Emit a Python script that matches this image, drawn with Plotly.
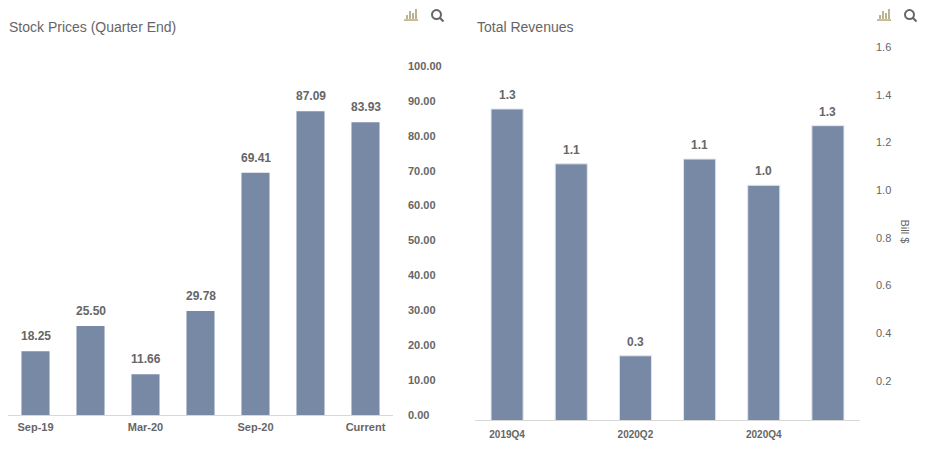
import plotly.graph_objects as go

# Datos del panel izquierdo: precio de la acción al cierre de trimestre
trimestres = ['Sep-19', 'Dec-19', 'Mar-20', 'Jun-20', 'Sep-20', 'Dec-20', 'Current']
precios = [18.25, 25.50, 11.66, 29.78, 69.41, 87.09, 83.93]
etiquetas_precio = ['Sep-19', 'Mar-20', 'Sep-20', 'Current']

# Datos del panel derecho: ingresos totales (miles de millones $)
periodos = ['2019Q4', '2020Q1', '2020Q2', '2020Q3', '2020Q4', '2021Q1']
ingresos = [1.34, 1.11, 0.305, 1.13, 1.02, 1.27]
etiquetas_periodo = ['2019Q4', '2020Q2', '2020Q4']

ticks_precio = [0, 10, 20, 30, 40, 50, 60, 70, 80, 90, 100]
ticks_ingreso = [0.2, 0.4, 0.6, 0.8, 1.0, 1.2, 1.4, 1.6]

# Coordenadas de referencia en px de la imagen 925x451
W, H = 925, 451
ALTO = 458  # la captura se reescala en vertical, compensamos con un alto mayor
color_barra = '#7789a5'
gris = '#666666'
fuente = 'Liberation Sans, Arial, sans-serif'


def px_x(p):
    return p / W


def px_y(p):
    return 1 - p / H


fig = go.Figure()

fig.add_trace(go.Bar(
    x=trimestres, y=precios, xaxis='x', yaxis='y',
    marker=dict(color=color_barra, line=dict(width=0)),
    width=0.51, hoverinfo='skip'
))

fig.add_trace(go.Bar(
    x=periodos, y=ingresos, xaxis='x2', yaxis='y2',
    marker=dict(color=color_barra, line=dict(width=1, color='#dfe5ee')),
    width=0.5, hoverinfo='skip'
))

# Etiquetas de datos encima de cada barra
for cat, v in zip(trimestres, precios):
    fig.add_annotation(x=cat, y=v, xref='x', yref='y', text=f'{v:.2f}',
                       showarrow=False, yanchor='bottom', yshift=6,
                       font=dict(size=12, color=gris, weight='bold'))
for cat, v in zip(periodos, ingresos):
    fig.add_annotation(x=cat, y=v, xref='x2', yref='y2', text=f'{v:.1f}',
                       showarrow=False, yanchor='bottom', yshift=5,
                       font=dict(size=12, color=gris, weight='bold'))

# Formato de los ejes
eje_x = dict(showgrid=False, showline=True, linecolor='#d8d8d8', linewidth=1,
             ticks='', zeroline=False, fixedrange=True)
eje_y = dict(showgrid=False, zeroline=False, showline=False, side='right',
             ticks='', fixedrange=True)

fig.update_layout(
    width=W, height=ALTO,
    margin=dict(l=0, r=0, t=0, b=0),
    paper_bgcolor='white', plot_bgcolor='white',
    showlegend=False, bargap=0.5,
    font=dict(family=fuente, color=gris),
    xaxis=dict(eje_x, domain=[px_x(8), px_x(393)], anchor='y',
               tickvals=etiquetas_precio, ticktext=etiquetas_precio,
               tickfont=dict(size=11, color=gris, weight='bold'),
               ticklabelstandoff=2),
    yaxis=dict(eje_y, domain=[px_y(414), px_y(59)], anchor='x', range=[0, 102],
               tickvals=ticks_precio, ticktext=[f'{t:.2f}' for t in ticks_precio],
               tickfont=dict(size=11, color=gris, weight='bold'),
               ticklabelstandoff=14),
    xaxis2=dict(eje_x, domain=[px_x(475), px_x(860)], anchor='y2',
                tickvals=etiquetas_periodo, ticktext=etiquetas_periodo,
                tickfont=dict(size=10, color=gris, weight='bold'),
                ticklabelstandoff=5),
    yaxis2=dict(eje_y, domain=[px_y(419), px_y(35)], anchor='x2', range=[0.036, 1.65],
                tickvals=ticks_ingreso, ticktext=[f'{t:.1f}' for t in ticks_ingreso],
                tickfont=dict(size=11, color=gris),
                ticklabelstandoff=15),
)

# Títulos de cada panel y título del eje derecho
fig.add_annotation(text='Stock Prices (Quarter End)', x=px_x(7), y=px_y(27),
                   xref='paper', yref='paper', xanchor='left', yanchor='middle',
                   showarrow=False, font=dict(size=14, color=gris))
fig.add_annotation(text='Total Revenues', x=px_x(475), y=px_y(27),
                   xref='paper', yref='paper', xanchor='left', yanchor='middle',
                   showarrow=False, font=dict(size=14, color=gris))
fig.add_annotation(text='Bill $', x=px_x(905), y=px_y(231), textangle=90,
                   xref='paper', yref='paper', xanchor='center', yanchor='middle',
                   showarrow=False, font=dict(size=11, color=gris))


# Iconos decorativos (gráfico de barras y lupa) en la esquina de cada panel
def iconos(x0):
    oro = '#a99a6a'
    formas = [dict(type='line', x0=x0, x1=x0 + 14, y0=20, y1=20,
                   line=dict(color=oro, width=1.3))]
    for i, h in enumerate([4, 8, 6, 10]):
        xx = x0 + 3 + i * 3
        formas.append(dict(type='line', x0=xx, x1=xx, y0=19, y1=19 - h,
                           line=dict(color=oro, width=1.5)))
    formas.append(dict(type='circle', x0=x0 + 28, x1=x0 + 37, y0=10, y1=19,
                       line=dict(color=gris, width=2)))
    formas.append(dict(type='line', x0=x0 + 35.5, x1=x0 + 39.5, y0=17.5, y1=21.5,
                       line=dict(color=gris, width=2.2)))
    for f in formas:
        f.update(xref='paper', yref='paper',
                 x0=px_x(f['x0']), x1=px_x(f['x1']),
                 y0=px_y(f['y0']), y1=px_y(f['y1']))
        fig.add_shape(f)


iconos(404)
iconos(877)

# Quitamos el margen por defecto del body para que el gráfico quede en la esquina
fig.write_html('out.html', config={'displayModeBar': False},
               post_script="document.body.style.margin='0';")
